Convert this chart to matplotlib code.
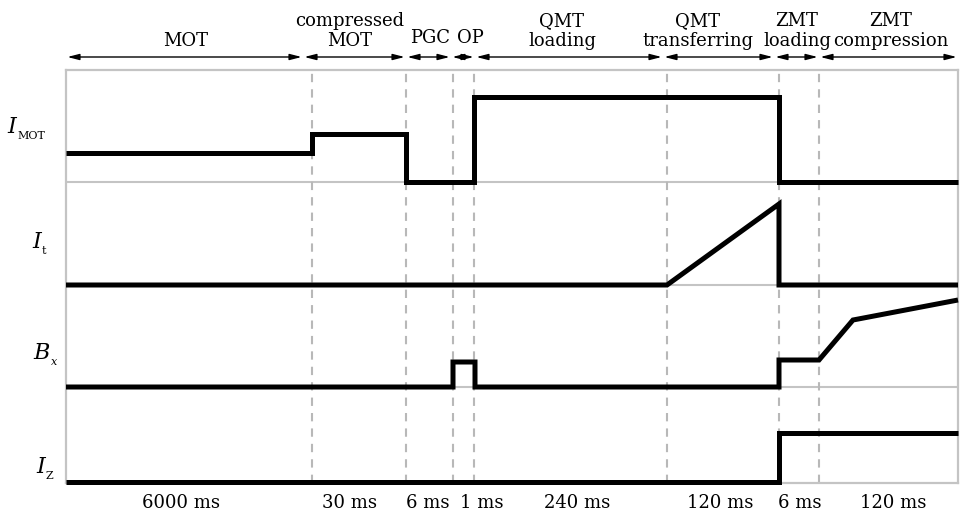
import matplotlib
matplotlib.use('Agg')
import matplotlib.pyplot as plt

plt.rcParams['font.family'] = 'DejaVu Serif'

# phase names and durations
phases = ['MOT', 'compressed\nMOT', 'PGC', 'OP', 'QMT\nloading', 'QMT\ntransferring',
          'ZMT\nloading', 'ZMT\ncompression']
durations = ['6000 ms', '30 ms', '6 ms', '1 ms', '240 ms', '120 ms', '6 ms', '120 ms']

# schematic time axis (not to scale)
edges = [0, 246, 340, 387, 408, 601, 713, 753, 892]
arrow_edges = [0, 237, 340, 385, 409, 597, 708, 753, 892]
label_x = [120, 284, 364, 404, 496, 632, 731, 825]
dur_x = [115, 283, 362, 416, 511, 654, 734, 827]

# signals: x breakpoints and level above each row's baseline
imot_x = [0, 246, 246, 340, 340, 408, 408, 713, 713, 892]
imot_y = [29, 29, 48, 48, 0, 0, 85, 85, 0, 0]
it_x = [0, 601, 713, 713, 892]
it_y = [0, 0, 81, 0, 0]
bx_x = [0, 387, 387, 409, 409, 713, 713, 753, 787, 892]
bx_y = [0, 0, 25, 25, 0, 0, 27, 27, 67, 87]
iz_x = [0, 713, 713, 892]
iz_y = [0, 0, 49, 49]

signals = [(imot_x, imot_y), (it_x, it_y), (bx_x, bx_y), (iz_x, iz_y)]
baselines = [301, 198, 96, 1]

# row labels: main symbol + subscript
sym = ['I', 'I', 'B', 'I']
sub = ['MOT', 't', 'x', 'Z']
sub_style = ['normal', 'normal', 'italic', 'normal']
sym_x = [-50, -25, -16, -21]
sym_y = [356, 241, 130, 16]

fig = plt.figure(figsize=(9.61, 5.20), dpi=100)
ax = fig.add_axes([66 / 961, 37 / 520, 892 / 961, 413 / 520])
ax.set_xlim(0, 892)
ax.set_ylim(0, 413)
ax.set_xticks([])
ax.set_yticks([])
for s in ax.spines.values():
    s.set_color('#c4c4c4')
    s.set_linewidth(1.6)

grey = '#c4c4c4'
for b in baselines[:3]:
    ax.axhline(b, color=grey, lw=1.5, zorder=1)

for x in edges[1:-1]:
    ax.axvline(x, color='#b8b8b8', lw=1.5, linestyle=(0, (4, 3.4)), zorder=2)

for (xs, ys), b in zip(signals, baselines):
    ax.plot(xs, [b + y for y in ys], color='black', lw=3.6,
            solid_joinstyle='miter', solid_capstyle='butt', zorder=3, clip_on=False)

for i in range(4):
    ax.text(sym_x[i], sym_y[i], sym[i], ha='right', va='center', fontsize=16,
            style='italic', clip_on=False)
    ax.text(sym_x[i] + 1, sym_y[i] - 9, sub[i], ha='left', va='center', fontsize=8,
            style=sub_style[i], clip_on=False)

for i in range(len(phases)):
    ax.annotate('', xy=(arrow_edges[i], 426), xytext=(arrow_edges[i + 1], 426),
                arrowprops=dict(arrowstyle='<|-|>,head_length=0.7,head_width=0.18',
                                color='black', lw=1.0, shrinkA=1, shrinkB=1),
                annotation_clip=False)
    yb = 437 if i not in (2, 3) else 440
    ax.text(label_x[i], yb, phases[i], ha='center', va='baseline', fontsize=13,
            linespacing=1.15, clip_on=False)
    ax.text(dur_x[i], -20, durations[i], ha='center', va='center', fontsize=13,
            clip_on=False)

fig.savefig('out.png', dpi=100)
